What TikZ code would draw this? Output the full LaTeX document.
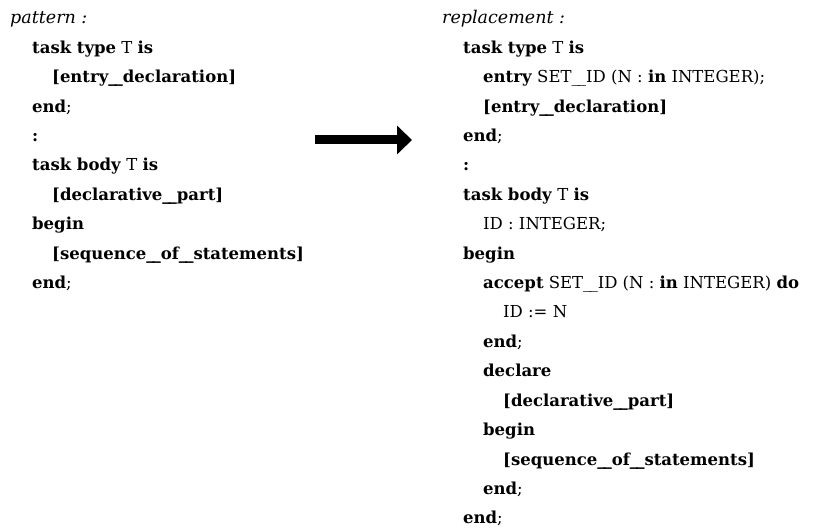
\documentclass[tikz,border=0pt]{standalone}
\usepackage{fontspec}
\setmainfont{DejaVu Serif}
\usepackage{tikz}
\usetikzlibrary{arrows.meta}
\newcommand{\kw}[1]{\textbf{#1}}
\newcommand{\us}{\_\kern-0.12em\_}
\tikzset{
  code/.style={anchor=base west,inner sep=0pt,font=\fontsize{16.5}{19}\selectfont},
  head/.style={code,font=\fontsize{17.5}{20}\selectfont\itshape},
  bigarrow/.style={line width=9pt,-{Triangle[length=15pt,width=28pt]}}
}
\begin{document}
\begin{tikzpicture}[x=1pt,y=-1pt]
\useasboundingbox (0,0) rectangle (828,529);
% pattern
\node[head] (p0) at (10,24) {pattern :};
\node[code] (p1) at (32,53.4) {\kw{task type} T \kw{is}};
\node[code] (p2) at (52,82.8) {\kw{[entry\us declaration]}};
\node[code] (p3) at (32,112.2) {\kw{end};};
\node[code] (p4) at (32,141.6) {\kw{:}};
\node[code] (p5) at (32,171) {\kw{task body} T \kw{is}};
\node[code] (p6) at (52,200.4) {\kw{[declarative\us part]}};
\node[code] (p7) at (32,229.8) {\kw{begin}};
\node[code] (p8) at (52,259.2) {\kw{[sequence\us of\us statements]}};
\node[code] (p9) at (32,288.6) {\kw{end};};
% arrow
\coordinate (arrs) at (315,140);
\coordinate (arre) at (412,140);
\draw[bigarrow] (arrs) -- (arre);
% replacement
\node[head] (r0) at (442,24) {replacement :};
\node[code] (r1) at (463,53.4) {\kw{task type} T \kw{is}};
\node[code] (r2) at (483,82.8) {\kw{entry} SET\us ID (N : \kw{in} INTEGER);};
\node[code] (r3) at (483,112.2) {\kw{[entry\us declaration]}};
\node[code] (r4) at (463,141.6) {\kw{end};};
\node[code] (r5) at (463,171) {\kw{:}};
\node[code] (r6) at (463,200.4) {\kw{task body} T \kw{is}};
\node[code] (r7) at (483,229.8) {ID : INTEGER;};
\node[code] (r8) at (463,259.2) {\kw{begin}};
\node[code] (r9) at (483,288.6) {\kw{accept} SET\us ID (N : \kw{in} INTEGER) \kw{do}};
\node[code] (r10) at (503,318) {ID := N};
\node[code] (r11) at (483,347.4) {\kw{end};};
\node[code] (r12) at (483,376.8) {\kw{declare}};
\node[code] (r13) at (503,406.2) {\kw{[declarative\us part]}};
\node[code] (r14) at (483,435.6) {\kw{begin}};
\node[code] (r15) at (503,465) {\kw{[sequence\us of\us statements]}};
\node[code] (r16) at (483,494.4) {\kw{end};};
\node[code] (r17) at (463,523.8) {\kw{end};};
\end{tikzpicture}
\end{document}
